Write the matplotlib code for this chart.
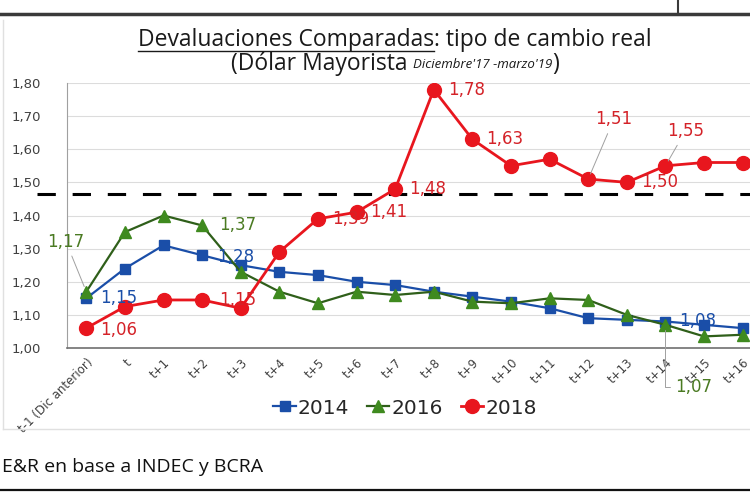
import matplotlib
matplotlib.use("Agg")
import matplotlib.pyplot as plt
from matplotlib.lines import Line2D

# datos
periodos = ["t-1 (Dic anterior)", "t", "t+1", "t+2", "t+3", "t+4", "t+5", "t+6", "t+7",
            "t+8", "t+9", "t+10", "t+11", "t+12", "t+13", "t+14", "t+15", "t+16"]
serie_2014 = [1.15, 1.24, 1.31, 1.28, 1.25, 1.23, 1.22, 1.20, 1.19, 1.17, 1.155,
              1.14, 1.12, 1.09, 1.085, 1.08, 1.07, 1.06]
serie_2016 = [1.17, 1.35, 1.40, 1.37, 1.23, 1.17, 1.135, 1.17, 1.16, 1.17, 1.14,
              1.135, 1.15, 1.145, 1.10, 1.07, 1.035, 1.04]
serie_2018 = [1.06, 1.125, 1.145, 1.145, 1.12, 1.29, 1.39, 1.41, 1.48, 1.78, 1.63,
              1.55, 1.57, 1.51, 1.50, 1.55, 1.56, 1.56]
nivel_ref = 1.465
yticks = [1.0, 1.1, 1.2, 1.3, 1.4, 1.5, 1.6, 1.7, 1.8]

AZUL = "#1a4ea8"
VERDE = "#3f8a1f"
VERDE_L = "#2f5f1a"
VERDE_T = "#4a7a22"
ROJO = "#e8161e"
ROJO_T = "#d42228"

fig = plt.figure(figsize=(7.5, 4.99), dpi=100)
ax = fig.add_axes([67/750, 151/499, 695/750, 265/499])

x = list(range(len(periodos)))
ax.plot(x, serie_2014, "-s", color=AZUL, lw=1.6, ms=7.5, label="2014", zorder=3)
ax.plot(x, serie_2016, "-^", color=VERDE_L, mfc=VERDE, mec=VERDE, lw=1.6, ms=9, label="2016", zorder=3)
ax.plot(x, serie_2018, "-o", color=ROJO, lw=2.0, ms=10, label="2018", zorder=4)

# linea punteada de referencia
ax.plot([-1.27, 17.6], [nivel_ref, nivel_ref], color="black", lw=2.2,
        dashes=(6, 5.5), clip_on=False, zorder=2)

ax.set_xlim(-0.5, 17.5)
ax.set_ylim(1.0, 1.8)
ax.set_yticks(yticks)
ax.set_yticklabels([f"{v:.2f}".replace(".", ",") for v in yticks])
ax.set_xticks(x)
ax.set_xticklabels(periodos, rotation=45, ha="right", rotation_mode="anchor")
ax.tick_params(axis="y", length=0, pad=19, labelsize=9.5, labelcolor="#404040")
ax.tick_params(axis="x", length=0, pad=6, labelsize=8.5, labelcolor="#404040")
ax.grid(axis="y", color="#dcdcdc", lw=0.8)
ax.set_axisbelow(True)
for s in ["top", "right"]:
    ax.spines[s].set_visible(False)
ax.spines["left"].set_color("#a0a0a0")
ax.spines["bottom"].set_color("#707070")
ax.spines["bottom"].set_linewidth(1.2)


def etiqueta(i, serie, color, dx=10, dy=0, guia=False, estilo="arc3"):
    txt = f"{serie[i]:.2f}".replace(".", ",")
    props = None
    if guia:
        props = dict(arrowstyle="-", color="#a0a0a0", lw=0.7, shrinkA=2, shrinkB=4,
                     connectionstyle=estilo)
    ax.annotate(txt, (i, serie[i]), xytext=(dx, dy), textcoords="offset points",
                ha="left", va="center", fontsize=12, color=color,
                arrowprops=props, zorder=5)


etiqueta(0, serie_2014, AZUL)
etiqueta(0, serie_2016, VERDE_T, dx=-28, dy=36, guia=True)
etiqueta(3, serie_2016, VERDE_T, dx=12)
etiqueta(3, serie_2014, AZUL, dx=11, dy=-1)
etiqueta(3, serie_2018, ROJO_T, dx=12)
etiqueta(0, serie_2018, ROJO_T, dy=-1)
for i in [6, 7, 8, 9, 10, 14]:
    etiqueta(i, serie_2018, ROJO_T)
etiqueta(13, serie_2018, ROJO_T, dx=5, dy=43, guia=True)
etiqueta(15, serie_2018, ROJO_T, dx=1, dy=25, guia=True)
etiqueta(15, serie_2014, AZUL)
etiqueta(15, serie_2016, VERDE_T, dx=7, dy=-45, guia=True,
         estilo="angle,angleA=0,angleB=90,rad=0")

# leyenda
fig.legend(loc="center", bbox_to_anchor=(405/750, 1 - 408/499), ncol=3,
           frameon=False, fontsize=14.5, handlelength=1.1, handletextpad=0.1,
           columnspacing=0.9, labelcolor="#262626")

# titulo con subrayado
fig.canvas.draw()
r = fig.canvas.get_renderer()
tfont = dict(family="Open Sans", fontsize=16.5, color="#1a1a1a")
p1 = "Devaluaciones Comparadas"
p2 = ": tipo de cambio real"
ty = 1 - 40/499
a = fig.text(0, ty, p1, va="center", **tfont)
b = fig.text(0, ty, p2, va="center", **tfont)
w1 = a.get_window_extent(r).width / 750
w2 = b.get_window_extent(r).width / 750
x0 = 395/750 - (w1 + w2) / 2
a.set_x(x0)
b.set_x(x0 + w1)
fig.add_artist(Line2D([x0, x0 + w1], [1 - 51/499] * 2, color="#1a1a1a", lw=1.0))

s1 = fig.text(0, 1 - 64/499, "(Dólar Mayorista ", va="center", **tfont)
s2 = fig.text(0, 1 - 65/499, "Diciembre'17 -marzo'19", va="center", family="Open Sans",
              fontsize=9.5, style="italic", color="#1a1a1a")
s3 = fig.text(0, 1 - 64/499, ")", va="center", **tfont)
ws = [t.get_window_extent(r).width / 750 for t in (s1, s2, s3)]
xs = 395/750 - sum(ws) / 2
s1.set_x(xs)
s2.set_x(xs + ws[0])
s3.set_x(xs + ws[0] + ws[1])

fig.text(2/750, 1 - 467/499, "E&R en base a INDEC y BCRA", va="center",
         family="Open Sans", fontsize=14, color="#111111")

# marcos de la captura
fig.add_artist(Line2D([0, 1], [1 - 14/499] * 2, color="#3a3a3a", lw=2.5))
fig.add_artist(Line2D([678/750] * 2, [1, 1 - 14/499], color="#3a3a3a", lw=1.5))
fig.add_artist(Line2D([0, 1], [1 - 490/499] * 2, color="#111111", lw=1.6))
fig.add_artist(Line2D([3/750] * 2, [1 - 20/499, 1 - 429/499], color="#e0e0e0", lw=1))
fig.add_artist(Line2D([3/750, 1], [1 - 429/499] * 2, color="#e0e0e0", lw=1))

fig.savefig("out.png", dpi=100)
